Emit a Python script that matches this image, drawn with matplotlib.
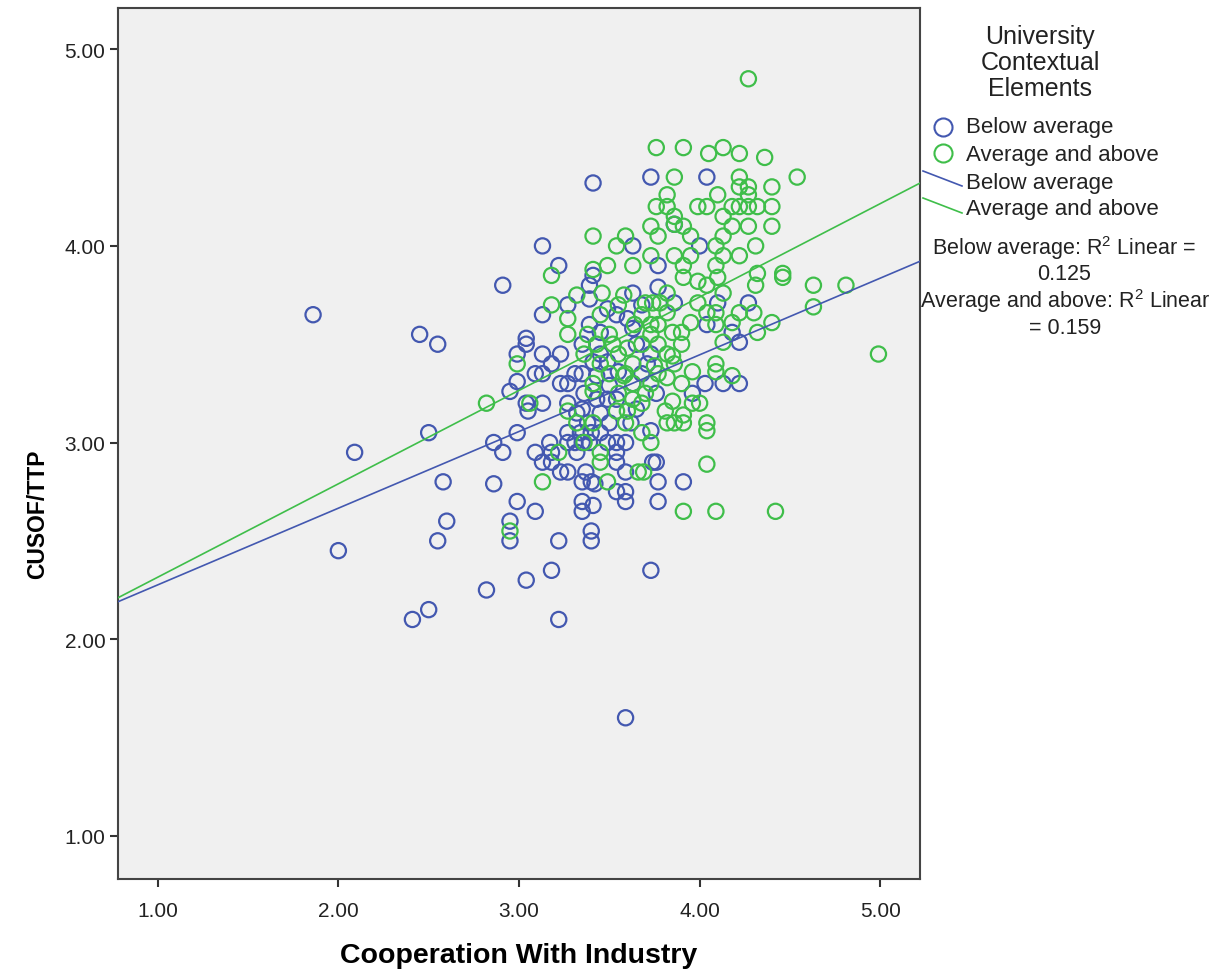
import numpy as np
import matplotlib
matplotlib.use("Agg")
from matplotlib import pyplot as plt
from matplotlib.lines import Line2D

plt.rcParams['font.family'] = ['Liberation Sans', 'DejaVu Sans']
plt.rcParams['mathtext.default'] = 'regular'

# Below average group (x = Cooperation With Industry, y = CUSOF/TTP)
below_x = [1.86, 2.45, 2.55, 2.50, 2.09, 2.58, 2.60, 2.55, 2.00, 2.50, 2.41, 2.82, 3.04, 3.18, 3.22, 3.73, 3.59,
           2.86, 2.99, 2.91, 3.09, 3.13, 3.17, 3.18, 3.18, 3.23, 3.27, 3.27, 3.27, 3.32, 3.31, 3.34, 3.35, 3.39,
           3.37, 3.35, 3.40, 3.42, 3.49, 3.54, 3.59, 3.54, 3.54, 3.59, 3.54, 3.59, 3.59, 2.86, 2.99, 3.09, 2.95,
           2.95, 3.22, 3.35, 3.35, 3.41, 3.40, 3.40,
           3.73, 3.74, 3.76, 3.77, 3.91, 3.77,
           2.91, 3.13, 3.27, 3.04, 3.04, 2.99, 3.13, 3.23, 3.18, 3.09, 3.13, 2.95, 2.99, 3.04, 3.13, 3.23, 3.27,
           3.31, 3.35, 3.05, 3.27, 3.35, 3.39, 3.39, 3.49, 3.63, 3.54, 3.60, 3.39, 3.45, 3.35, 3.49, 3.41, 3.63,
           3.55, 3.43, 3.50, 3.43, 3.49, 3.54, 3.65, 3.38, 3.45, 3.50, 3.62, 3.45, 3.36, 3.32, 3.40, 3.45,
           3.41, 3.13, 3.63, 3.22, 3.41,
           3.73, 4.04, 3.86, 4.00, 3.77,
           3.77, 3.86, 4.10, 4.27, 4.04, 4.18, 4.22, 3.71, 4.03, 4.13, 4.22, 3.96, 3.76,
           3.68, 3.63, 3.73, 3.65, 3.68]
below_y = [3.65, 3.55, 3.50, 3.05, 2.95, 2.80, 2.60, 2.50, 2.45, 2.15, 2.10, 2.25, 2.30, 2.35, 2.10, 2.35, 1.60,
           3.00, 3.05, 2.95, 2.95, 2.90, 3.00, 2.95, 2.90, 2.85, 2.85, 3.05, 3.00, 2.95, 3.00, 3.05, 3.00, 3.00,
           2.85, 2.80, 2.80, 2.79, 3.00, 3.00, 3.00, 2.95, 2.90, 2.85, 2.75, 2.75, 2.70, 2.79, 2.70, 2.65, 2.60,
           2.50, 2.50, 2.70, 2.65, 2.68, 2.55, 2.50,
           3.06, 2.90, 2.90, 2.80, 2.80, 2.70,
           3.80, 3.65, 3.70, 3.53, 3.50, 3.45, 3.45, 3.45, 3.40, 3.35, 3.35, 3.26, 3.31, 3.20, 3.20, 3.30, 3.30,
           3.35, 3.35, 3.16, 3.20, 3.17, 3.80, 3.73, 3.68, 3.76, 3.65, 3.63, 3.60, 3.56, 3.50, 3.41, 3.41, 3.58,
           3.36, 3.34, 3.29, 3.22, 3.22, 3.22, 3.17, 3.10, 3.15, 3.10, 3.10, 3.45, 3.25, 3.15, 3.05, 3.05,
           4.32, 4.00, 4.00, 3.90, 3.85,
           4.35, 4.35, 4.11, 4.00, 3.90,
           3.79, 3.71, 3.71, 3.71, 3.60, 3.56, 3.51, 3.40, 3.30, 3.30, 3.30, 3.25, 3.25,
           3.35, 3.30, 3.45, 3.50, 3.70]

# Average and above group
above_x = [4.27, 4.54, 4.63, 4.81, 4.63, 4.99,
           3.76, 3.91, 4.05, 4.13, 4.22, 4.36, 3.86, 4.22, 4.22, 4.27, 4.40, 3.82, 4.27, 4.10, 3.76, 3.82, 3.99,
           4.04, 4.18, 4.22, 4.27, 4.32, 4.40, 3.86, 4.13, 3.86, 3.73, 3.91, 4.18, 4.27, 4.40, 3.77, 3.95, 4.13,
           4.09, 4.31, 3.73, 3.86, 3.95, 4.13, 4.22, 3.91, 4.09, 4.32, 4.46,
           3.41, 3.54, 3.59, 3.18, 3.41, 3.49, 3.63,
           3.91, 3.99, 4.04, 4.10, 4.31, 4.46, 3.82, 3.70, 3.74, 3.78, 3.82, 3.99, 4.13, 4.04, 4.09, 4.22, 4.30,
           4.09, 4.18, 4.40, 3.95, 3.73, 4.32, 3.85, 3.90, 4.13, 3.73, 3.77, 3.90, 3.82, 3.85, 3.75, 3.96, 4.09,
           4.09, 4.18, 3.82, 3.90, 3.85, 3.96, 4.00, 3.70, 3.81, 3.91,
           3.18, 3.27, 3.32, 3.27, 2.99, 2.82, 3.06, 3.41, 3.27, 3.46, 3.58, 3.38, 3.43, 3.52, 3.60, 3.63, 3.58,
           3.54, 3.60,
           3.22, 3.32, 3.41, 3.45, 3.45, 3.49, 3.66, 3.13, 2.95,
           3.73, 4.04, 4.04, 4.04, 3.91, 4.09, 4.42, 3.69,
           3.41, 3.45, 3.50, 3.55, 3.59, 3.63, 3.68, 3.64, 3.68, 3.55, 3.45, 3.36, 3.59, 3.68, 3.36, 3.82, 3.86,
           3.91, 3.77, 3.68, 3.63, 3.50, 3.55, 3.73, 3.77, 3.86]
above_y = [4.85, 4.35, 3.80, 3.80, 3.69, 3.45,
           4.50, 4.50, 4.47, 4.50, 4.47, 4.45, 4.35, 4.35, 4.30, 4.30, 4.30, 4.26, 4.26, 4.26, 4.20, 4.20, 4.20,
           4.20, 4.20, 4.20, 4.20, 4.20, 4.20, 4.15, 4.15, 4.11, 4.10, 4.10, 4.10, 4.10, 4.10, 4.05, 4.05, 4.05,
           4.00, 4.00, 3.95, 3.95, 3.95, 3.95, 3.95, 3.90, 3.90, 3.86, 3.86,
           4.05, 4.00, 4.05, 3.85, 3.88, 3.90, 3.90,
           3.84, 3.82, 3.80, 3.84, 3.80, 3.84, 3.76, 3.71, 3.71, 3.71, 3.66, 3.71, 3.76, 3.66, 3.66, 3.66, 3.66,
           3.60, 3.61, 3.61, 3.61, 3.60, 3.56, 3.56, 3.56, 3.51, 3.55, 3.50, 3.50, 3.45, 3.44, 3.39, 3.36, 3.40,
           3.36, 3.34, 3.33, 3.30, 3.21, 3.20, 3.20, 3.25, 3.16, 3.14,
           3.70, 3.63, 3.75, 3.55, 3.40, 3.20, 3.20, 3.26, 3.16, 3.76, 3.75, 3.55, 3.50, 3.50, 3.48, 3.40, 3.34,
           3.16, 3.16,
           2.95, 3.10, 3.10, 2.95, 2.90, 2.80, 2.85, 2.80, 2.55,
           3.00, 3.10, 3.06, 2.89, 2.65, 2.65, 2.65, 2.85,
           3.30, 3.40, 3.55, 3.25, 3.35, 3.30, 3.50, 3.60, 3.65, 3.70, 3.65, 3.45, 3.10, 3.05, 3.00, 3.10, 3.10,
           3.10, 3.60, 3.20, 3.22, 3.35, 3.45, 3.30, 3.35, 3.40]

# fit lines: intercept, slope
below_fit = (1.886, 0.390)
above_fit = (1.840, 0.475)
below_r2 = 0.125
above_r2 = 0.159

blue = '#4358b0'
green = '#3fbe4a'

fig = plt.figure(figsize=(12.28, 9.70), dpi=100)
ax = fig.add_axes([118 / 1228, 1 - 880 / 970, 802 / 1228, 871 / 970])
ax.set_facecolor('#f0f0f0')

ax.scatter(below_x, below_y, s=120, facecolors='none', edgecolors=blue, linewidths=1.6, zorder=3)
ax.scatter(above_x, above_y, s=120, facecolors='none', edgecolors=green, linewidths=1.6, zorder=3)

xlim = (0.78, 5.22)
xs = np.array(xlim)
ax.plot(xs, below_fit[0] + below_fit[1] * xs, color=blue, lw=1.2, zorder=4)
ax.plot(xs, above_fit[0] + above_fit[1] * xs, color=green, lw=1.2, zorder=4)

ax.set_xlim(*xlim)
ax.set_ylim(0.78, 5.21)
ticks = [1, 2, 3, 4, 5]
ax.set_xticks(ticks)
ax.set_yticks(ticks)
ax.set_xticklabels([f'{t:.2f}' for t in ticks], fontsize=15)
ax.set_yticklabels([f'{t:.2f}' for t in ticks], fontsize=15)
ax.tick_params(direction='out', length=6, width=1.5, color='#333333', labelcolor='#222222')
ax.tick_params(axis='x', pad=10)
ax.tick_params(axis='y', pad=3)
for sp in ax.spines.values():
    sp.set_color('#444444')
    sp.set_linewidth(1.5)

ax.set_xlabel('Cooperation With Industry', fontsize=20.5, fontweight='bold', labelpad=16)
ax.set_ylabel('CUSOF/TTP', fontsize=16.5, fontweight='bold')
ax.yaxis.set_label_coords(-0.086, 0.42)

# legend drawn by hand to match the layout
def fx(px):
    return px / 1228

def fy(py):
    return 1 - py / 970

fig.text(fx(1040), fy(63), 'University\nContextual\nElements', ha='center', va='center',
         fontsize=18, linespacing=1.08, color='#222222')
fig.add_artist(Line2D([fx(943)], [fy(128)], marker='o', ms=13, mfc='none', mec=blue, mew=1.5,
                      transform=fig.transFigure))
fig.add_artist(Line2D([fx(943)], [fy(154)], marker='o', ms=13, mfc='none', mec=green, mew=1.5,
                      transform=fig.transFigure))
fig.add_artist(Line2D([fx(923), fx(962)], [fy(172), fy(187)], color=blue, lw=1.2,
                      transform=fig.transFigure))
fig.add_artist(Line2D([fx(923), fx(962)], [fy(199), fy(214)], color=green, lw=1.2,
                      transform=fig.transFigure))
for py, label in zip([128, 155, 183, 209], ['Below average', 'Average and above', 'Below average', 'Average and above']):
    fig.text(fx(966), fy(py), label, ha='left', va='center', fontsize=16, color='#222222')

fig.text(fx(1064), fy(248), 'Below average: R$^2$ Linear =', ha='center', va='center', fontsize=15.5, color='#222222')
fig.text(fx(1064), fy(275), f'{below_r2:.3f}', ha='center', va='center', fontsize=15.5, color='#222222')
fig.text(fx(1065), fy(301), 'Average and above: R$^2$ Linear', ha='center', va='center', fontsize=15.5, color='#222222')
fig.text(fx(1065), fy(328), f'= {above_r2:.3f}', ha='center', va='center', fontsize=15.5, color='#222222')

fig.savefig('out.png', dpi=100)
